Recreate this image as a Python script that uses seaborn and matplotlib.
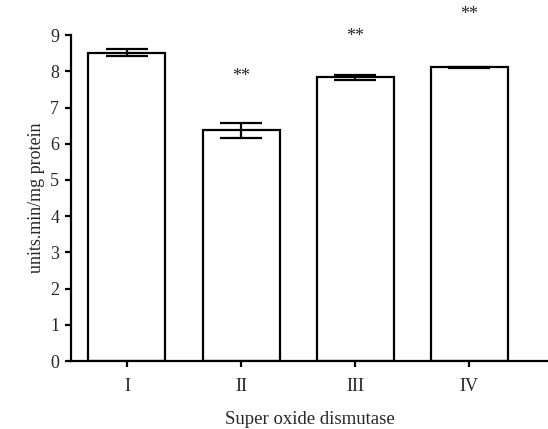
import matplotlib
matplotlib.use("Agg")
import matplotlib.pyplot as plt
import seaborn as sns
import pandas as pd

# SOD activity per group
groups = ["I", "II", "III", "IV"]
means = [8.52, 6.37, 7.84, 8.11]
errors = [0.10, 0.21, 0.07, 0.02]
marks = ["", "**", "**", "**"]
mark_heights = [None, 7.85, 8.95, 9.58]

sns.set_theme(style="ticks")
plt.rcParams["font.family"] = ["Liberation Serif", "DejaVu Serif"]

df = pd.DataFrame({"group": groups, "value": means})

fig = plt.figure(figsize=(5.48, 4.29), dpi=100)
ax = fig.add_axes([0.1296, 0.1585, 0.8704, 0.7595])

sns.barplot(data=df, x="group", y="value", order=groups, color="white",
            edgecolor="black", linewidth=1.6, width=0.675, errorbar=None,
            saturation=1, ax=ax)
for p in ax.patches:
    p.set_facecolor("white")

ax.errorbar(range(len(groups)), means, yerr=errors, fmt="none", ecolor="black",
            elinewidth=1.6, capsize=15, capthick=1.6, zorder=5)

for i, (s, h) in enumerate(zip(marks, mark_heights)):
    if s:
        ax.text(i, h, s, ha="center", va="center", fontsize=13, clip_on=False)

ax.set_ylim(0, 9)
ax.set_xlim(-0.49, 3.69)
ax.set_yticks(range(10))
ax.set_xlabel("Super oxide dismutase", fontsize=13.5, labelpad=11)
ax.set_ylabel("units.min/mg protein", fontsize=13, labelpad=4)
ax.tick_params(axis="both", labelsize=13, width=1.6, length=4.5, color="black")
ax.tick_params(axis="y", pad=4)
ax.tick_params(axis="x", pad=8)
for side in ["top", "right"]:
    ax.spines[side].set_visible(False)
for side in ["left", "bottom"]:
    ax.spines[side].set_linewidth(1.6)
    ax.spines[side].set_color("black")

fig.savefig("out.png", dpi=100)
